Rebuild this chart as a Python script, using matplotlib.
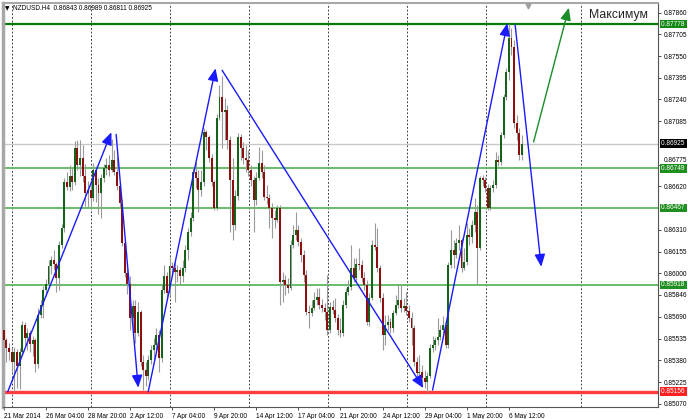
import matplotlib
matplotlib.use("Agg")
import matplotlib.pyplot as plt
from matplotlib.patches import Rectangle, FancyArrowPatch
import matplotlib.transforms as mtransforms

# ---------------- data ----------------
symbol = "NZDUSD.H4"
header_values = ["0.86843", "0.86989", "0.86811", "0.86925"]

opens = [0.85596, 0.85525, 0.85468, 0.85439, 0.85368, 0.85439, 0.85340, 0.85439, 0.85632, 0.85539,
         0.85575, 0.85496, 0.85525, 0.85354, 0.85703, 0.85774, 0.85881, 0.85924, 0.86053, 0.86095,
         0.86067, 0.85967, 0.86202, 0.86323, 0.86651, 0.86616, 0.86694, 0.86651, 0.86894, 0.86773,
         0.86822, 0.86694, 0.86573, 0.86594, 0.86538, 0.86737, 0.86630, 0.86573, 0.86680, 0.86751,
         0.86773, 0.86737, 0.86808, 0.86723, 0.86623, 0.86502, 0.86216, 0.86003, 0.85924, 0.85682,
         0.85767, 0.85575, 0.85724, 0.85368, 0.85311, 0.85268, 0.85382, 0.85453, 0.85489, 0.85560,
         0.85397, 0.85881, 0.85981, 0.85860, 0.86053, 0.86038, 0.86010, 0.86024, 0.85981, 0.86038,
         0.86166, 0.86295, 0.86395, 0.86723, 0.86680, 0.86594, 0.86651, 0.87008, 0.86972, 0.86822,
         0.86651, 0.86466, 0.87108, 0.87257, 0.87150, 0.87165, 0.86951, 0.86666, 0.86345, 0.86552,
         0.86972, 0.86894, 0.86822, 0.86808, 0.86737, 0.86666, 0.86523, 0.86680, 0.86787, 0.86723,
         0.86545, 0.86538, 0.86466, 0.86395, 0.86380, 0.86466, 0.85938, 0.85952, 0.85917, 0.85895,
         0.86202, 0.86273, 0.86309, 0.86224, 0.86131, 0.85988, 0.85724, 0.85717, 0.85753, 0.85810,
         0.85831, 0.85774, 0.85753, 0.85724, 0.85596, 0.85760, 0.85739, 0.85682, 0.85596, 0.85575,
         0.85774, 0.85867, 0.85903, 0.86038, 0.85967, 0.86067, 0.86060, 0.85967, 0.85917, 0.85653,
         0.85824, 0.86202, 0.86188, 0.86038, 0.85824, 0.85560, 0.85632, 0.85653, 0.85610, 0.85717,
         0.85774, 0.85810, 0.85753, 0.85767, 0.85731, 0.85682, 0.85610, 0.85368, 0.85289, 0.85297,
         0.85254, 0.85225, 0.85268, 0.85468, 0.85489, 0.85525, 0.85546, 0.85596, 0.85632, 0.85489,
         0.86060, 0.86166, 0.86131, 0.86216, 0.86238, 0.86038, 0.86081, 0.86273, 0.86259, 0.86345,
         0.86437, 0.86181, 0.86680, 0.86666, 0.86609, 0.86466, 0.86609, 0.86630, 0.86808, 0.86794,
         0.86987, 0.87257, 0.87436, 0.87678, 0.87614, 0.87072, 0.87001, 0.86843]

highs = [0.85632, 0.85539, 0.85503, 0.85468, 0.85475, 0.85461, 0.85468, 0.85660, 0.85653, 0.85610,
         0.85596, 0.85553, 0.85539, 0.85753, 0.85810, 0.85910, 0.85960, 0.86095, 0.86124, 0.86166,
         0.86081, 0.86231, 0.86352, 0.86680, 0.86723, 0.86773, 0.86751, 0.86944, 0.86951, 0.86951,
         0.86915, 0.86780, 0.86659, 0.86651, 0.86787, 0.86765, 0.86680, 0.86708, 0.86780, 0.86822,
         0.86844, 0.86958, 0.86880, 0.86837, 0.86644, 0.86530, 0.86238, 0.86038, 0.85981, 0.85810,
         0.85810, 0.85796, 0.85739, 0.85418, 0.85368, 0.85418, 0.85489, 0.85539, 0.85610, 0.85596,
         0.85924, 0.86060, 0.86010, 0.86117, 0.86081, 0.86081, 0.86060, 0.86045, 0.86095, 0.86202,
         0.86323, 0.86437, 0.86751, 0.86794, 0.86737, 0.86737, 0.87036, 0.87022, 0.86987, 0.86851,
         0.86666, 0.87136, 0.87343, 0.87407, 0.87250, 0.87200, 0.86979, 0.86822, 0.86594, 0.87001,
         0.86994, 0.86937, 0.86915, 0.86880, 0.86773, 0.86694, 0.86723, 0.86901, 0.86880, 0.86773,
         0.86630, 0.86566, 0.86502, 0.86452, 0.86487, 0.86487, 0.86010, 0.85988, 0.85967, 0.86238,
         0.86345, 0.86437, 0.86345, 0.86252, 0.86166, 0.86024, 0.85774, 0.85810, 0.85867, 0.85895,
         0.85895, 0.85817, 0.85788, 0.85988, 0.85796, 0.85810, 0.85824, 0.85710, 0.85682, 0.85810,
         0.85895, 0.85952, 0.86202, 0.86110, 0.86110, 0.86181, 0.86095, 0.86010, 0.85952, 0.85860,
         0.86238, 0.86359, 0.86323, 0.86060, 0.85860, 0.85703, 0.85703, 0.85682, 0.85739, 0.85845,
         0.85917, 0.85917, 0.85824, 0.85867, 0.85774, 0.85724, 0.85632, 0.85404, 0.85418, 0.85347,
         0.85311, 0.85297, 0.85496, 0.85553, 0.85546, 0.85682, 0.85632, 0.85696, 0.85653, 0.86081,
         0.86309, 0.86238, 0.86252, 0.86345, 0.86252, 0.86181, 0.86359, 0.86323, 0.86380, 0.86538,
         0.86487, 0.86694, 0.86701, 0.86687, 0.86637, 0.86630, 0.86666, 0.86865, 0.86844, 0.87008,
         0.87279, 0.87464, 0.87778, 0.87749, 0.87664, 0.87129, 0.87036, 0.86989]

lows = [0.85268, 0.85368, 0.85382, 0.85297, 0.85160, 0.85184, 0.85176, 0.85411, 0.85489, 0.85453,
        0.85439, 0.85411, 0.85297, 0.85325, 0.85682, 0.85682, 0.85838, 0.85903, 0.85995, 0.86024,
        0.85867, 0.85881, 0.86181, 0.86295, 0.86594, 0.86587, 0.86594, 0.86630, 0.86737, 0.86694,
        0.86651, 0.86480, 0.86473, 0.86466, 0.86516, 0.86509, 0.86423, 0.86395, 0.86651, 0.86701,
        0.86694, 0.86723, 0.86701, 0.86594, 0.86473, 0.86195, 0.85974, 0.85853, 0.85596, 0.85596,
        0.85503, 0.85553, 0.85340, 0.85165, 0.85197, 0.85239, 0.85354, 0.85382, 0.85453, 0.85297,
        0.85368, 0.85860, 0.85824, 0.85838, 0.85981, 0.85796, 0.85938, 0.85917, 0.85938, 0.86010,
        0.86095, 0.86266, 0.86373, 0.86609, 0.86437, 0.86552, 0.86623, 0.86880, 0.86794, 0.86623,
        0.86452, 0.86452, 0.87093, 0.86894, 0.86951, 0.86887, 0.86295, 0.86238, 0.86309, 0.86523,
        0.86808, 0.86780, 0.86723, 0.86694, 0.86623, 0.86295, 0.86487, 0.86666, 0.86680, 0.86523,
        0.86494, 0.86323, 0.86252, 0.86323, 0.86366, 0.85774, 0.85796, 0.85845, 0.85860, 0.85881,
        0.86181, 0.86238, 0.86195, 0.86081, 0.85938, 0.85703, 0.85610, 0.85696, 0.85739, 0.85774,
        0.85746, 0.85724, 0.85667, 0.85560, 0.85575, 0.85710, 0.85653, 0.85560, 0.85546, 0.85553,
        0.85753, 0.85845, 0.85881, 0.85938, 0.85938, 0.86024, 0.85938, 0.85881, 0.85632, 0.85625,
        0.85810, 0.86166, 0.86010, 0.85796, 0.85453, 0.85489, 0.85596, 0.85575, 0.85582, 0.85703,
        0.85753, 0.85724, 0.85724, 0.85703, 0.85653, 0.85489, 0.85340, 0.85254, 0.85239, 0.85218,
        0.85184, 0.85156, 0.85254, 0.85439, 0.85453, 0.85489, 0.85525, 0.85568, 0.85468, 0.85468,
        0.86038, 0.86038, 0.86110, 0.86166, 0.86010, 0.86024, 0.86060, 0.86202, 0.86216, 0.86295,
        0.85917, 0.86166, 0.86623, 0.86580, 0.86452, 0.86452, 0.86580, 0.86609, 0.86765, 0.86773,
        0.86965, 0.87236, 0.87379, 0.87557, 0.87036, 0.86951, 0.86808, 0.86811]

closes = [0.85525, 0.85468, 0.85439, 0.85368, 0.85439, 0.85340, 0.85439, 0.85632, 0.85539, 0.85575,
          0.85496, 0.85525, 0.85354, 0.85703, 0.85774, 0.85881, 0.85924, 0.86053, 0.86095, 0.86067,
          0.85967, 0.86202, 0.86323, 0.86651, 0.86616, 0.86694, 0.86651, 0.86894, 0.86773, 0.86822,
          0.86694, 0.86573, 0.86594, 0.86538, 0.86737, 0.86630, 0.86573, 0.86680, 0.86751, 0.86773,
          0.86737, 0.86808, 0.86723, 0.86623, 0.86502, 0.86216, 0.86003, 0.85924, 0.85682, 0.85767,
          0.85575, 0.85724, 0.85368, 0.85311, 0.85268, 0.85382, 0.85453, 0.85489, 0.85560, 0.85397,
          0.85881, 0.85981, 0.85860, 0.86053, 0.86038, 0.86010, 0.86024, 0.85981, 0.86038, 0.86166,
          0.86295, 0.86395, 0.86723, 0.86680, 0.86594, 0.86651, 0.87008, 0.86972, 0.86822, 0.86651,
          0.86466, 0.87108, 0.87257, 0.87150, 0.87165, 0.86951, 0.86666, 0.86345, 0.86552, 0.86972,
          0.86894, 0.86822, 0.86808, 0.86737, 0.86666, 0.86523, 0.86680, 0.86787, 0.86723, 0.86545,
          0.86538, 0.86466, 0.86395, 0.86380, 0.86466, 0.85938, 0.85952, 0.85917, 0.85895, 0.86202,
          0.86273, 0.86309, 0.86224, 0.86131, 0.85988, 0.85724, 0.85717, 0.85753, 0.85810, 0.85831,
          0.85774, 0.85753, 0.85724, 0.85596, 0.85760, 0.85739, 0.85682, 0.85596, 0.85575, 0.85774,
          0.85867, 0.85903, 0.86038, 0.85967, 0.86067, 0.86060, 0.85967, 0.85917, 0.85653, 0.85824,
          0.86202, 0.86188, 0.86038, 0.85824, 0.85560, 0.85632, 0.85653, 0.85610, 0.85717, 0.85774,
          0.85810, 0.85753, 0.85767, 0.85731, 0.85682, 0.85610, 0.85368, 0.85289, 0.85297, 0.85254,
          0.85225, 0.85268, 0.85468, 0.85489, 0.85525, 0.85546, 0.85596, 0.85632, 0.85489, 0.86060,
          0.86166, 0.86131, 0.86216, 0.86238, 0.86038, 0.86081, 0.86273, 0.86259, 0.86345, 0.86437,
          0.86181, 0.86680, 0.86666, 0.86609, 0.86466, 0.86609, 0.86630, 0.86808, 0.86794, 0.86987,
          0.87257, 0.87436, 0.87678, 0.87614, 0.87072, 0.87001, 0.86843, 0.86925]

time_labels = ["21 Mar 2014", "26 Mar 04:00", "28 Mar 20:00", "2 Apr 12:00", "7 Apr 04:00",
               "9 Apr 20:00", "14 Apr 12:00", "17 Apr 04:00", "21 Apr 20:00", "24 Apr 12:00",
               "29 Apr 04:00", "1 May 20:00", "6 May 12:00"]
bars_per_label = 16

price_ticks = [0.87860, 0.87705, 0.87550, 0.87395, 0.87240, 0.87085, 0.86775, 0.86620,
               0.86310, 0.86155, 0.86000, 0.85846, 0.85690, 0.85535, 0.85380, 0.85225, 0.85070]

level_max = 0.87778
levels_green = [0.86749, 0.86467, 0.85918]
level_min = 0.85156
current_price = 0.86925

# trend arrows: (bar index, price) start -> end
blue_arrows = [
    ((1.5, 0.85156), (40.9, 0.87006)),
    ((42.7, 0.86991), (51.1, 0.85185)),
    ((54.9, 0.85156), (80.5, 0.87462)),
    ((83.0, 0.87448), (159.5, 0.85182)),
    ((163.0, 0.85168), (191.4, 0.87783)),
    ((194.4, 0.87771), (204.3, 0.86047)),
]
green_arrow = ((201.4, 0.86937), (214.8, 0.87894))
label_text = "Максимум"
label_pos = (222.3, 0.87842)

# ---------------- figure ----------------
W, H = 688, 419
fig = plt.figure(figsize=(W / 100, H / 100), dpi=100)
fig.patch.set_facecolor("white")
ax = fig.add_axes([3 / W, 1 - 407 / H, (658 - 3) / W, (407 - 3) / H])
ax.set_facecolor("white")
ax.set_xlim(-0.3, 248.7)
ax.set_ylim(0.85047, 0.87928)

small_font = dict(family="Liberation Sans", size=4.7)

# vertical dashed grid
grid_positions = [3.2, 33.2, 63.3, 93.2, 123.3, 153.4, 183.5, 219.5]
for gx in grid_positions:
    ax.axvline(gx, color="#222222", lw=0.6, ls=(0, (2.2, 2.2)), zorder=1)

# horizontal levels
ax.axhline(current_price, color="#c8c8c8", lw=1.0, zorder=1.5)
ax.axhline(level_max, color="#0a7a0a", lw=1.6, zorder=1.6)
for lv in levels_green:
    ax.axhline(lv, color="#5cb85c", lw=1.3, zorder=1.6)
ax.axhline(level_min, color="#ff3b3b", lw=2.4, zorder=1.6)

# candles
bull_color = "#15621a"
bear_color = "#8c1010"
wick_color = "#9a9a9a"
body_w = 0.74
for i in range(len(closes)):
    o, h, l, c = opens[i], highs[i], lows[i], closes[i]
    ax.vlines(i, l, h, color=wick_color, lw=0.8, zorder=2)
    lo_b, hi_b = min(o, c), max(o, c)
    col = bull_color if c >= o else bear_color
    if hi_b - lo_b < 0.00004:
        ax.hlines(c, i - body_w / 2, i + body_w / 2, color="#555555", lw=0.8, zorder=3)
    else:
        ax.add_patch(Rectangle((i - body_w / 2, lo_b), body_w, hi_b - lo_b,
                               facecolor=col, edgecolor="none", zorder=3))

# arrows
def draw_arrow(p0, p1, color):
    ax.add_patch(FancyArrowPatch(p0, p1, arrowstyle="-|>,head_length=0.75,head_width=0.32",
                                 mutation_scale=10, color=color, lw=1.0,
                                 shrinkA=0, shrinkB=0, zorder=5, clip_on=False))

for p0, p1 in blue_arrows:
    draw_arrow(p0, p1, "#1a1aff")
draw_arrow(green_arrow[0], green_arrow[1], "#1a8c2a")

ax.text(label_pos[0], label_pos[1], label_text, family="Liberation Sans", size=8.8,
        color="#222222", va="center", ha="left", zorder=6)

# shift marker on top
ax.plot([199.1], [0.87905], marker="v", ms=3.5, color="#a0a0a0", clip_on=False, zorder=6)

# header text
fig.text(5 / W, 1 - 8.5 / H, "▼", family="DejaVu Sans", size=4.2, color="black", va="center")
fig.text(13 / W, 1 - 8.5 / H, symbol + "  " + " ".join(header_values), color="black",
         va="center", ha="left", **small_font)

# x axis
ax.set_xticks([k * bars_per_label for k in range(len(time_labels))])
ax.set_xticklabels(time_labels, ha="left", **small_font)
ax.tick_params(axis="x", direction="out", length=2.5, width=0.6, pad=1.5, color="#333333")

# y axis on right
ax.yaxis.tick_right()
ax.set_yticks(price_ticks)
ax.set_yticklabels([f"{v:.5f}" for v in price_ticks], **small_font)
ax.tick_params(axis="y", direction="out", length=2.5, width=0.6, pad=1.5, color="#333333")
# the label just above the 0.86749 box is nudged up so the box does not cover it
nudge = mtransforms.ScaledTranslation(0, 5 / 100, fig.dpi_scale_trans)
for lab, v in zip(ax.get_yticklabels(), price_ticks):
    if abs(v - 0.86775) < 1e-6:
        lab.set_transform(lab.get_transform() + nudge)

# colored price boxes
trans = mtransforms.blended_transform_factory(ax.transAxes, ax.transData)
boxes = [(level_max, "#138a13"), (levels_green[0], "#1f8f1f"), (levels_green[1], "#1f8f1f"),
         (levels_green[2], "#1f8f1f"), (level_min, "#ff2020"), (current_price, "#000000")]
for val, colr in boxes:
    ax.text(1.004, val, f"{val:.5f} ", transform=trans, color="white", va="center", ha="left",
            clip_on=False, zorder=10,
            bbox=dict(boxstyle="square,pad=0.12", fc=colr, ec="none"), **small_font)

# frame
for side in ["left", "top"]:
    ax.spines[side].set_color("#a8a8a8")
ax.spines["left"].set_linewidth(2.5)
ax.spines["top"].set_linewidth(1.5)
for side in ["right", "bottom"]:
    ax.spines[side].set_color("#555555")
    ax.spines[side].set_linewidth(0.8)

fig.savefig("out.png", dpi=100, facecolor="white")
